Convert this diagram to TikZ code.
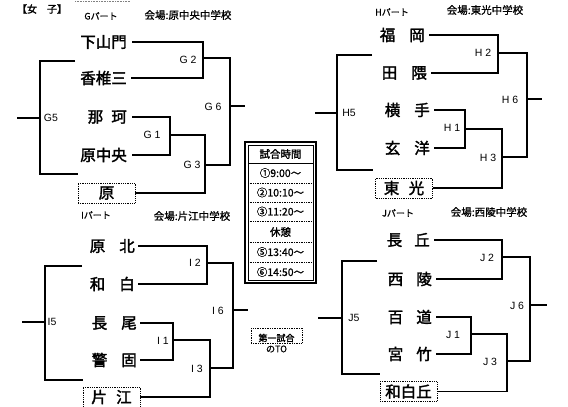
\documentclass[tikz,border=0pt]{standalone}
\usepackage{fontspec}
\setsansfont{Liberation Sans}
\newfontfamily\jp{Noto Sans CJK JP}
\newfontfamily\jpm{Noto Sans CJK JP}[FakeBold=1]
\newfontfamily\jpb{Noto Sans CJK JP}[FakeBold=2]
\tikzset{
  team/.style={anchor=east, inner sep=0pt, font=\jpb\fontsize{15.5}{15.5}\selectfont},
  seed/.style={draw, densely dotted, line width=0.8pt, minimum width=57pt, minimum height=20pt, inner sep=0pt, font=\jpb\fontsize{15.5}{15.5}\selectfont},
  br/.style={line width=1.1pt},
  lab/.style={inner sep=0pt, font=\sffamily\fontsize{10.5}{10.5}\selectfont},
  hdr/.style={inner sep=0pt, font=\jpm\fontsize{9}{9}\selectfont},
  venue/.style={inner sep=0pt, font=\jpm\fontsize{10.5}{10.5}\selectfont},
  tt/.style={inner sep=0pt, font=\jpm\fontsize{10.5}{10.5}\selectfont},
}
\begin{document}
\begin{tikzpicture}[x=1pt,y=-1pt]
\useasboundingbox (0,0) rectangle (568,407);
\fill[white] (0,0) rectangle (568,407);
% header
\node[inner sep=0pt, font=\jpb\fontsize{10}{10}\selectfont] (title) at (42,9) {【女\hspace{1em}子】};
\draw[densely dotted, line width=0.6pt, gray] (75,1) -- (130,1);
\node[hdr] (gpart) at (101,16) {Gパート};
\node[venue] (gplace) at (188,15) {会場:原中央中学校};
\node[hdr] (hpart) at (392,12) {Hパート};
\node[venue] (hplace) at (485,10) {会場:東光中学校};
\node[hdr] (ipart) at (96,215) {Iパート};
\node[venue] (iplace) at (192,216) {会場:片江中学校};
\node[hdr] (jpart) at (398,213) {Jパート};
\node[venue] (jplace) at (489,212) {会場:西陵中学校};

% ===== G part =====
\node[team] (ga) at (127,42) {下山門};
\node[team] (gb) at (127,78) {香椎三};
\node[team] (gc) at (127,117) {\makebox[39pt]{那\hfill 珂}};
\node[team] (gd) at (127,155) {原中央};
\node[seed] (ge) at (106.5,193) {原};
\coordinate (G1) at (170,135);
\coordinate (G2) at (203,58);
\coordinate (G3) at (205,165);
\coordinate (G6) at (230,106);
\coordinate (G6o) at (245,106);
\coordinate (G5) at (40,118);
\coordinate (G5t) at (75,61);
\coordinate (G5b) at (78,174);
\coordinate (G5s) at (17,118);
\draw[br] ([xshift=5pt]ga.east) -| (G2) |- ([xshift=4pt]gb.east);
\draw[br] ([xshift=5pt]gc.east) -| (G1) |- ([xshift=5pt]gd.east);
\draw[br] (G1) -| (G3) |- (ge.east);
\draw[br] (G2) -| (G6) |- (G3);
\draw[br] (G6) -- (G6o);
\draw[br] (G5t) -| (G5) |- (G5b);
\draw[br] (G5s) -- (G5);
\node[lab] at (188,60) {G 2};
\node[lab] at (213,107) {G 6};
\node[lab] at (152,135) {G 1};
\node[lab] at (192,165) {G 3};
\node[lab] at (51,118) {G5};

% ===== H part =====
\node[team] (ha) at (425,35) {\makebox[45pt]{福\hfill 岡}};
\node[team] (hb) at (427,73) {\makebox[45pt]{田\hfill 隈}};
\node[team] (hc) at (430,110) {\makebox[45pt]{横\hfill 手}};
\node[team] (hd) at (430,148) {\makebox[45pt]{玄\hfill 洋}};
\node[seed] (he) at (404,188) {東\hspace{0.6em}光};
\coordinate (H1) at (465,129);
\coordinate (H2) at (498,53);
\coordinate (H3) at (502,157);
\coordinate (H6) at (527,99);
\coordinate (H6o) at (542,99);
\coordinate (H5) at (337,113);
\coordinate (H5t) at (372,55);
\coordinate (H5b) at (373,170);
\coordinate (H5s) at (315,113);
\draw[br] ([xshift=4pt]ha.east) -| (H2) |- ([xshift=4pt]hb.east);
\draw[br] ([xshift=4pt]hc.east) -| (H1) |- ([xshift=4pt]hd.east);
\draw[br] (H1) -| (H3) |- (he.east);
\draw[br] (H2) -| (H6) |- (H3);
\draw[br] (H6) -- (H6o);
\draw[br] (H5t) -| (H5) |- (H5b);
\draw[br] (H5s) -- (H5);
\node[lab] at (483,53) {H 2};
\node[lab] at (510,100) {H 6};
\node[lab] at (452,128) {H 1};
\node[lab] at (488,158) {H 3};
\node[lab] at (349,113) {H5};

% ===== I part =====
\node[team] (ia) at (135,246) {\makebox[45pt]{原\hfill 北}};
\node[team] (ib) at (135,284) {\makebox[45pt]{和\hfill 白}};
\node[team] (ic) at (137,323) {\makebox[45pt]{長\hfill 尾}};
\node[team] (id) at (137,360) {\makebox[45pt]{警\hfill 固}};
\node[seed] (ie) at (111.5,397) {片\hspace{0.6em}江};
\coordinate (I1) at (173,340);
\coordinate (I2) at (207,263);
\coordinate (I3) at (210,368);
\coordinate (I6) at (233,310);
\coordinate (I6o) at (248,310);
\coordinate (I5) at (45,322);
\coordinate (I5t) at (82,266);
\coordinate (I5b) at (83,380);
\coordinate (I5s) at (22,322);
\draw[br] ([xshift=3pt]ia.east) -| (I2) |- ([xshift=3pt]ib.east);
\draw[br] ([xshift=3pt]ic.east) -| (I1) |- ([xshift=3pt]id.east);
\draw[br] (I1) -| (I3) |- (ie.east);
\draw[br] (I2) -| (I6) |- (I3);
\draw[br] (I6) -- (I6o);
\draw[br] (I5t) -| (I5) |- (I5b);
\draw[br] (I5s) -- (I5);
\node[lab] at (195,263) {I 2};
\node[lab] at (218,311) {I 6};
\node[lab] at (163,341) {I 1};
\node[lab] at (197,369) {I 3};
\node[lab] at (52,322) {I5};

% ===== J part =====
\node[team] (ja) at (430,240) {\makebox[43pt]{長\hfill 丘}};
\node[team] (jb) at (432,279) {\makebox[44pt]{西\hfill 陵}};
\node[team] (jc) at (432,317) {\makebox[44pt]{百\hfill 道}};
\node[team] (jd) at (432,354) {\makebox[44pt]{宮\hfill 竹}};
\node[seed] (je) at (408.5,391.5) {和白丘};
\coordinate (J1) at (471,334);
\coordinate (J2) at (502,257);
\coordinate (J3) at (507,361);
\coordinate (J6) at (530,305);
\coordinate (J6o) at (547,305);
\coordinate (J5) at (342,318);
\coordinate (J5t) at (377,261);
\coordinate (J5b) at (380,374);
\coordinate (J5s) at (318,318);
\draw[br] ([xshift=4pt]ja.east) -| (J2) |- ([xshift=4pt]jb.east);
\draw[br] ([xshift=4pt]jc.east) -| (J1) |- ([xshift=4pt]jd.east);
\draw[br] (J1) -| (J3) |- (je.east);
\draw[br] (J2) -| (J6) |- (J3);
\draw[br] (J6) -- (J6o);
\draw[br] (J5t) -| (J5) |- (J5b);
\draw[br] (J5s) -- (J5);
\node[lab] at (487,258) {J 2};
\node[lab] at (517,306) {J 6};
\node[lab] at (453,335) {J 1};
\node[lab] at (490,362) {J 3};
\node[lab] at (354,318) {J5};

% ===== time table =====
\draw[line width=1.6pt] (245,142) rectangle (316,283);
\draw[line width=0.6pt] (248,145) rectangle (313,280);
\draw[line width=0.8pt] (248,163) -- (313,163);
\foreach \yy in {183,202,221,242,262}
  \draw[densely dotted, line width=0.7pt] (248,\yy) -- (313,\yy);
\node[tt, font=\jpb\fontsize{10.5}{10.5}\selectfont] (t0) at (280.5,154) {試合時間};
\node[tt] (t1) at (280.5,173) {①9:00～};
\node[tt] (t2) at (280.5,192.5) {②10:10～};
\node[tt] (t3) at (280.5,211.5) {③11:20～};
\node[tt, font=\jpb\fontsize{10.5}{10.5}\selectfont] (t4) at (280.5,232) {休憩};
\node[tt] (t5) at (280.5,252) {⑤13:40～};
\node[tt] (t6) at (280.5,272) {⑥14:50～};

% TO box
\draw[densely dotted, line width=0.7pt] (251,328) rectangle (302,343);
\node[tt, font=\jpb\fontsize{9}{9}\selectfont] (to1) at (276.5,338) {第一試合};
\node[tt, font=\jpm\fontsize{9}{9}\selectfont] (to2) at (276.5,349) {のTO};
\end{tikzpicture}
\end{document}
